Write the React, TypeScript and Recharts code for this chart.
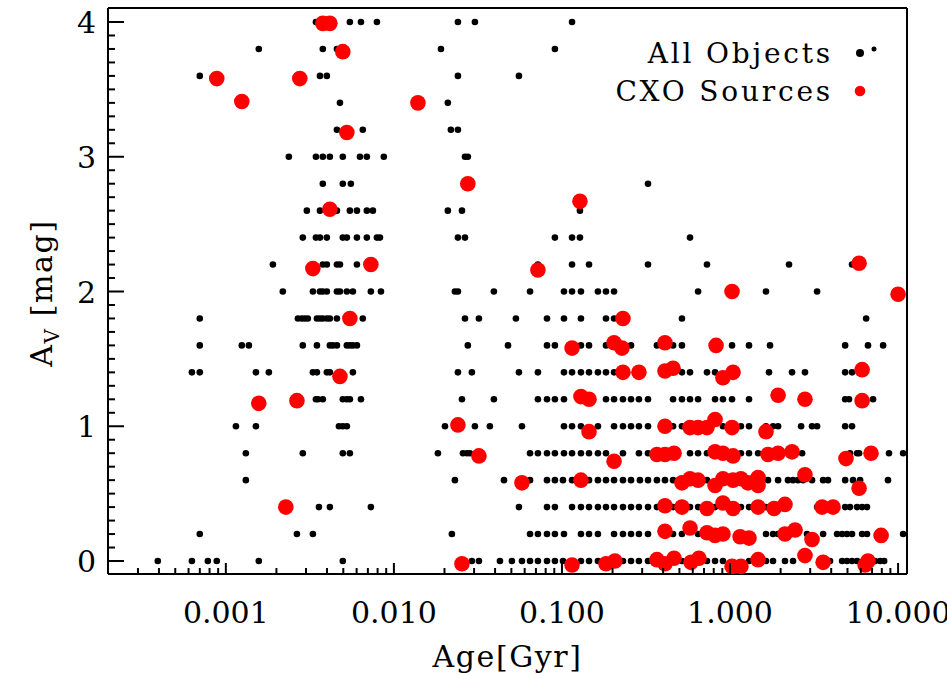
import React from 'react';
import { ScatterChart, Scatter, XAxis, YAxis, Legend, Label } from 'recharts';

// ---- All Objects: log10(Age/Gyr) per Av row ----
const avLevels = [4.0, 3.8, 3.6, 3.4, 3.2, 3.0, 2.8, 2.6, 2.4, 2.2, 2.0, 1.8, 1.6, 1.4, 1.2, 1.0, 0.8, 0.6, 0.4, 0.2, 0.0];

const row40 = [-2.464, -2.363, -2.262, -2.196, -2.101, -1.619, -1.518, -0.94];
const row38 = [-2.804, -2.423, -2.339, -1.72, -1.042];
const row36 = [-3.155, -2.44, -2.399, -1.619, -1.256];
const row34 = [-2.321, -1.679];
const row32 = [-2.339, -2.185, -1.661, -1.619];
const row30 = [-2.625, -2.464, -2.423, -2.381, -2.304, -2.202, -2.161, -2.06, -1.577, -1.56];
const row28 = [-2.423, -2.304, -2.256, -0.488];
const row26 = [-2.518, -2.44, -2.339, -2.262, -2.22, -2.161, -2.125, -1.679, -1.595, -0.893];
const row24 = [-2.542, -2.464, -2.44, -2.399, -2.304, -2.28, -2.22, -2.161, -2.101, -2.083, -1.619, -1.577, -1.042, -0.94, -0.893, -0.238];
const row22 = [-2.72, -2.423, -2.399, -2.339, -2.321, -2.22, -1.143, -0.94, -0.839, -0.488, -0.137, 0.351, 0.726];
const row20 = [-2.661, -2.482, -2.44, -2.423, -2.399, -2.339, -2.321, -2.28, -2.244, -2.137, -2.077, -1.637, -1.619, -1.405, -1.19, -0.988, -0.94, -0.887, -0.786, -0.738, -0.69, -0.19, 0.214, 0.518];
const row18 = [-3.155, -2.571, -2.548, -2.53, -2.512, -2.458, -2.44, -2.423, -2.399, -2.381, -2.339, -2.185, -1.577, -1.494, -1.274, -1.089, -0.988, -0.887, -0.738, -0.69, -0.286, 0.81];
const row16 = [-3.155, -2.905, -2.863, -2.542, -2.458, -2.381, -2.363, -2.339, -2.28, -2.262, -2.244, -2.22, -1.56, -1.321, -1.089, -1.042, -0.887, -0.839, -0.738, -0.589, -0.435, -0.339, -0.286, 0.012, 0.113, 0.238, 0.685, 0.821, 0.911];
const row14 = [-3.202, -3.155, -2.821, -2.744, -2.482, -2.458, -2.399, -2.381, -2.244, -1.619, -1.536, -1.256, -1.143, -0.988, -0.94, -0.887, -0.839, -0.786, -0.738, -0.69, -0.286, -0.238, -0.137, -0.089, 0.232, 0.369, 0.446, 0.685, 0.726];
const row12 = [-2.464, -2.452, -2.423, -2.304, -2.28, -2.262, -2.196, -1.595, -1.405, -1.143, -1.089, -1.042, -0.988, -0.738, -0.69, -0.637, -0.589, -0.542, -0.488, -0.339, -0.286, -0.238, -0.19, -0.089, -0.042, 0.012, 0.113, 0.685, 0.708, 0.851];
const row10 = [-2.94, -2.821, -2.327, -2.304, -2.28, -1.696, -1.518, -1.429, -1.238, -0.988, -0.94, -0.887, -0.786, -0.69, -0.637, -0.589, -0.542, -0.488, -0.339, -0.286, -0.042, 0.065, 0.113, 0.214, 0.256, 0.286, 0.423, 0.488, 0.518, 0.685, 0.726];
const row08 = [-2.881, -2.542, -2.304, -2.262, -1.738, -1.589, -1.565, -1.548, -1.19, -1.143, -1.089, -1.042, -0.988, -0.94, -0.887, -0.839, -0.786, -0.738, -0.637, -0.542, -0.488, -0.238, -0.19, -0.137, 0.065, 0.113, 0.167, 0.429, 0.714, 0.756, 0.768, 0.946, 1.03];
const row06 = [-2.881, -1.637, -1.345, -1.19, -1.089, -1.042, -0.994, -0.94, -0.839, -0.786, -0.738, -0.69, -0.637, -0.589, -0.536, -0.488, -0.435, -0.387, -0.339, -0.137, 0.226, 0.286, 0.345, 0.375, 0.405, 0.435, 0.488, 0.554, 0.583, 0.685, 0.732, 0.774, 0.94];
const row04 = [-2.446, -2.381, -2.137, -1.256, -1.089, -1.042, -0.94, -0.887, -0.839, -0.786, -0.738, -0.69, -0.637, -0.589, -0.542, -0.488, -0.435, -0.339, -0.238, -0.19, -0.089, 0.065, 0.113, 0.214, 0.518, 0.685, 0.714, 0.756, 0.786, 0.815];
const row02 = [-3.155, -2.577, -2.482, -1.655, -1.19, -1.143, -1.089, -1.042, -0.988, -0.887, -0.839, -0.786, -0.69, -0.637, -0.589, -0.542, -0.488, -0.339, -0.286, -0.19, 0.214, 0.256, 0.286, 0.458, 0.554, 0.637, 0.667, 0.696, 0.726, 0.786, 0.815, 1.03];
const row00 = [-3.405, -3.202, -3.107, -3.054, -2.804, -2.304, -1.536, -1.494, -1.369, -1.298, -1.238, -1.19, -1.143, -1.089, -1.042, -0.994, -0.887, -0.839, -0.786, -0.637, -0.589, -0.542, -0.488, -0.286, -0.137, -0.089, -0.042, 0.113, 0.214, 0.256, 0.327, 0.375, 0.595, 0.667, 0.696, 0.726, 0.756, 0.863, 0.893, 0.917];

const allRows = [row40, row38, row36, row34, row32, row30, row28, row26, row24, row22, row20, row18, row16, row14, row12, row10, row08, row06, row04, row02, row00];

// ---- CXO Sources ----
const cxoLogAge = [
  -3.054, -2.905, -2.56, -2.423, -2.381, -2.304, -1.857, -2.28, -1.56, -0.893,
  -2.381, -2.482, -2.137, -1.143, 0.768, 0.012, 1.0, -2.262, -0.637, -0.94,
  -0.69, -0.643, -0.387, -0.083, -2.321, -0.637, -0.542, -0.387, -0.339, -0.042,
  0.018, 0.786, -2.804, -2.577, -0.887, -0.839, 0.286, 0.446, 0.786, -1.619,
  -0.839, -0.387, -0.238, -0.19, -0.137, -0.089, 0.012, 0.214, -1.494, -0.69,
  -0.435, -0.387, -0.333, -0.089, -0.042, 0.018, 0.226, 0.286, 0.369, 0.69,
  0.839, -1.238, -0.887, -0.286, -0.238, -0.19, -0.089, -0.042, 0.018, 0.065,
  0.107, 0.167, 0.167, 0.446, 0.768, -2.643, -0.387, -0.286, -0.137, -0.042,
  0.018, 0.167, 0.262, 0.327, 0.548, 0.613, -0.387, -0.238, -0.137, -0.089,
  -0.042, 0.06, 0.113, 0.327, 0.387, 0.488, 0.899, -1.595, -0.94, -0.738,
  -0.685, -0.435, -0.387, -0.333, -0.232, -0.185, 0.012, 0.065, 0.167, 0.446,
  0.554, 0.804, 0.821,
];
const cxoAv = [
  3.58, 3.41, 3.58, 3.99, 3.99, 3.78, 3.4, 3.18, 2.8, 2.67,
  2.61, 2.17, 2.2, 2.16, 2.21, 2.0, 1.98, 1.8, 1.8, 1.58,
  1.62, 1.58, 1.62, 1.6, 1.37, 1.4, 1.4, 1.41, 1.43, 1.36,
  1.4, 1.42, 1.17, 1.19, 1.22, 1.2, 1.23, 1.2, 1.19, 1.01,
  0.96, 1.0, 0.99, 0.99, 0.99, 1.05, 0.99, 0.96, 0.78, 0.74,
  0.79, 0.79, 0.8, 0.81, 0.8, 0.78, 0.79, 0.8, 0.81, 0.76,
  0.8, 0.58, 0.6, 0.58, 0.61, 0.6, 0.56, 0.61, 0.6, 0.61,
  0.58, 0.62, 0.56, 0.64, 0.54, 0.4, 0.41, 0.4, 0.39, 0.43,
  0.39, 0.4, 0.39, 0.42, 0.4, 0.4, 0.22, 0.245, 0.21, 0.19,
  0.2, 0.18, 0.17, 0.2, 0.23, 0.16, 0.19, -0.02, -0.03, -0.02,
  0.0, 0.01, -0.02, 0.02, -0.01, 0.02, -0.04, -0.04, 0.01, 0.04,
  -0.01, -0.03, 0.0,
];

// ---- Axes ----
const ageDomain = [0.000199, 11.3];
const avDomain = [-0.0965, 4.104];
const ageTickMultipliers = [1, 2, 3, 4, 5, 6, 7, 8, 9];
const ageDecades = [0.0001, 0.001, 0.01, 0.1, 1, 10];

const ageTicks: number[] = [];
ageDecades.forEach((d) => ageTickMultipliers.forEach((m) => {
  const v = d * m;
  if (v >= 0.00025 && v <= 10.5) ageTicks.push(v);
}));
const avTicks: number[] = Array.from({ length: 41 }, (_, i) => i / 10);

const allData = allRows.flatMap((row, i) => row.map((l) => ({ age: Math.pow(10, l), av: avLevels[i] })));
const cxoData = cxoLogAge.map((l, i) => ({ age: Math.pow(10, l), av: cxoAv[i] }));

const FONT = 'DejaVu Serif';
const isMajorAge = (v: number) => Math.abs(Math.log10(v) - Math.round(Math.log10(v))) < 1e-6;
const isMajorAv = (v: number) => Math.abs(v - Math.round(v)) < 1e-6;

const BottomTick = (p: any) => {
  const { x, y, payload } = p;
  const major = isMajorAge(payload.value);
  return (
    <g>
      <line x1={x} x2={x} y1={y} y2={y - (major ? 11 : 6)} stroke="#000" strokeWidth={2} />
      {major && (
        <text x={x} y={y + 49} textAnchor="middle" fontFamily={FONT} fontSize={30} fill="#000">
          {payload.value.toFixed(3)}
        </text>
      )}
    </g>
  );
};
const TopTick = (p: any) => {
  const { x, y, payload } = p;
  const major = isMajorAge(payload.value);
  return <line x1={x} x2={x} y1={y} y2={y + (major ? 11 : 6)} stroke="#000" strokeWidth={2} />;
};
const LeftTick = (p: any) => {
  const { x, y, payload } = p;
  const major = isMajorAv(payload.value);
  return (
    <g>
      <line x1={x} x2={x + (major ? 16 : 7)} y1={y} y2={y} stroke="#000" strokeWidth={2} />
      {major && (
        <text x={x - 12} y={y + 11} textAnchor="end" fontFamily={FONT} fontSize={30} fill="#000">
          {String(Math.round(payload.value))}
        </text>
      )}
    </g>
  );
};
const RightTick = (p: any) => {
  const { x, y, payload } = p;
  const major = isMajorAv(payload.value);
  return <line x1={x} x2={x - (major ? 15 : 8)} y1={y} y2={y} stroke="#000" strokeWidth={2} />;
};

const BlackDot = (p: any) => <circle cx={p.cx} cy={p.cy} r={3.3} fill="#000" />;
const RedDot = (p: any) => <circle cx={p.cx} cy={p.cy} r={7.8} fill="#ff0000" />;

const LegendBox = () => (
  <svg width={340} height={100} style={{ display: 'block', overflow: 'visible' }}>
    <text x={253} y={38} textAnchor="end" fontFamily={FONT} fontSize={28} letterSpacing={2.8} fill="#000">All Objects</text>
    <circle cx={280} cy={28} r={4} fill="#000" />
    <circle cx={294} cy={24} r={2.5} fill="#000" />
    <text x={253} y={76} textAnchor="end" fontFamily={FONT} fontSize={28} letterSpacing={2.8} fill="#000">CXO Sources</text>
    <circle cx={280} cy={66} r={5.3} fill="#ff0000" />
  </svg>
);

const XTitle = (p: any) => {
  const vb = p.viewBox;
  return (
    <text x={vb.x + vb.width / 2} y={vb.y + 93} textAnchor="middle" fontFamily={FONT} fontSize={30} letterSpacing={1.6} fill="#000">
      Age[Gyr]
    </text>
  );
};
const YTitle = (p: any) => {
  const vb = p.viewBox;
  const cx = vb.x + 52;
  const cy = 293;
  return (
    <text x={cx} y={cy} transform={`rotate(-90 ${cx} ${cy})`} textAnchor="middle" fontFamily={FONT} fontSize={30} letterSpacing={1.6} fill="#000">
      A<tspan dy={7} fontSize={20}>V</tspan><tspan dy={-7}> [mag]</tspan>
    </text>
  );
};

export default function App() {
  return (
    <div style={{ width: 947, height: 675, background: '#fff' }}>
      <style>{'body{margin:0;}'}</style>
      <ScatterChart width={947} height={675} margin={{ top: 7, right: 39, bottom: 0, left: 0 }}>
        <XAxis
          xAxisId="b" orientation="bottom" dataKey="age" type="number" scale="log"
          domain={ageDomain} ticks={ageTicks} interval={0} height={101}
          tickSize={0} tickMargin={0} tickLine={false} tick={<BottomTick />}
          axisLine={{ stroke: '#000', strokeWidth: 2 }}
        >
          <Label content={<XTitle />} />
        </XAxis>
        <XAxis
          xAxisId="t" orientation="top" dataKey="age" type="number" scale="log"
          domain={ageDomain} ticks={ageTicks} interval={0} height={1}
          tickSize={0} tickMargin={0} tickLine={false} tick={<TopTick />}
          axisLine={{ stroke: '#000', strokeWidth: 2 }}
        />
        <YAxis
          yAxisId="l" orientation="left" dataKey="av" type="number"
          domain={avDomain} ticks={avTicks} interval={0} width={108}
          tickSize={0} tickMargin={0} tickLine={false} tick={<LeftTick />}
          axisLine={{ stroke: '#000', strokeWidth: 2 }}
        >
          <Label content={<YTitle />} />
        </YAxis>
        <YAxis
          yAxisId="r" orientation="right" dataKey="av" type="number"
          domain={avDomain} ticks={avTicks} interval={0} width={1}
          tickSize={0} tickMargin={0} tickLine={false} tick={<RightTick />}
          axisLine={{ stroke: '#000', strokeWidth: 2 }}
        />
        <Scatter name="All Objects" data={allData} xAxisId="b" yAxisId="l" shape={<BlackDot />} isAnimationActive={false} />
        <Scatter name="CXO Sources" data={cxoData} xAxisId="b" yAxisId="l" shape={<RedDot />} isAnimationActive={false} />
        <Legend
          layout="horizontal" verticalAlign="middle" align="center"
          wrapperStyle={{ position: 'absolute', left: 580, top: 25, width: 340, height: 100 }}
          content={<LegendBox />}
        />
      </ScatterChart>
    </div>
  );
}
